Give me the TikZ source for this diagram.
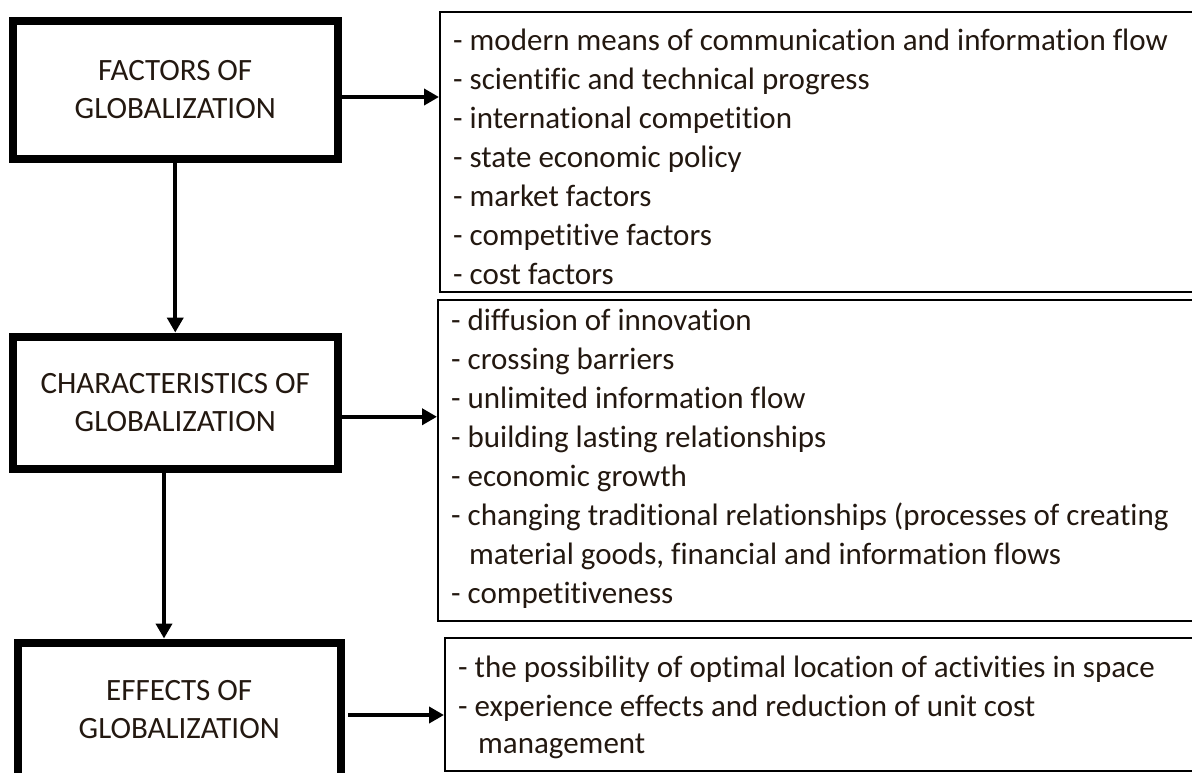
\documentclass[tikz,border=0pt]{standalone}
\usepackage{fontspec}
\setmainfont{Carlito}[Ligatures={NoCommon}]
\usetikzlibrary{arrows.meta}
\definecolor{ink}{RGB}{35,24,16}
\begin{document}
\begin{tikzpicture}[x=1pt,y=-1pt,
  stage/.style={draw=black,line width=8pt,rectangle,align=center,text=ink,
    font=\fontsize{31}{38}\selectfont},
  listbox/.style={draw=black,line width=1.8pt,rectangle,anchor=north west,inner sep=0pt},
  item/.style={anchor=base west,inner sep=0pt,text=ink,font=\fontsize{31}{38}\selectfont},
  arr/.style={draw=black,line width=4pt,-{Triangle[length=15pt,width=16pt]}}]
\path[use as bounding box] (0,0) rectangle (1192,772);
\clip (0,0) rectangle (1192,772);

% stage boxes on the left
\node[stage,minimum width=324.5pt,minimum height=138pt] (b1) at (175.25,90)
  {FACTORS OF\\GLOBALIZATION};
\node[stage,minimum width=324.5pt,minimum height=132.5pt] (b2) at (175.25,402.75)
  {CHARACTERISTICS OF\\GLOBALIZATION};
\node[stage,minimum width=323.5pt,minimum height=135pt] (b3) at (179.25,710)
  {EFFECTS OF\\GLOBALIZATION};

% list boxes on the right
\node[listbox,minimum width=800pt,minimum height=280pt] (r1) at (439,11) {};
\node[listbox,minimum width=800pt,minimum height=321pt] (r2) at (437,299) {};
\node[listbox,minimum width=800pt,minimum height=133pt] (r3) at (444,637) {};

% factors
\node[item] (f1) at (453,50) {- modern means of communication and information flow};
\node[item] (f2) at (453,89) {- scientific and technical progress};
\node[item] (f3) at (453,128) {- international competition};
\node[item] (f4) at (453,167) {- state economic policy};
\node[item] (f5) at (453,206) {- market factors};
\node[item] (f6) at (453,245) {- competitive factors};
\node[item] (f7) at (453,284) {- cost factors};

% characteristics
\node[item] (c1) at (451,330) {- diffusion of innovation};
\node[item] (c2) at (451,369) {- crossing barriers};
\node[item] (c3) at (451,408) {- unlimited information flow};
\node[item] (c4) at (451,447) {- building lasting relationships};
\node[item] (c5) at (451,486) {- economic growth};
\node[item] (c6) at (451,525) {- changing traditional relationships (processes of creating};
\node[item] (c7) at (469,564) {material goods, financial and information flows};
\node[item] (c8) at (451,603) {- competitiveness};

% effects
\node[item] (e1) at (458,677) {- the possibility of optimal location of activities in space};
\node[item] (e2) at (458,716) {- experience effects and reduction of unit cost};
\node[item] (e3) at (478,753) {management};

% connectors
\draw[arr] ([yshift=-7pt]b1.east) -- ([yshift=-7pt]b1.east -| r1.west);
\draw[arr] ([yshift=-14pt]b2.east) -- ([yshift=-14pt]b2.east -| r2.west);
\draw[arr] ([shift={(3pt,-5pt)}]b3.east) -- ([yshift=-5pt]b3.east -| r3.west);
\draw[arr] (b1.south) -- (b2.north);
\draw[arr] ([xshift=-11.25pt]b2.south) -- ([xshift=-11.25pt]b2.south |- b3.north);
\end{tikzpicture}
\end{document}
